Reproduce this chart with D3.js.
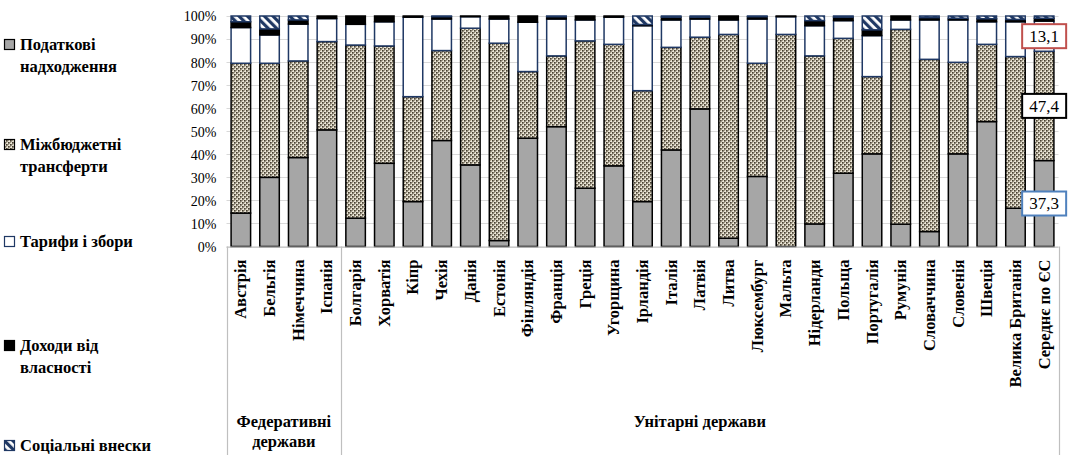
<!DOCTYPE html>
<meta charset="utf-8">
<style>
body { margin: 0; background: #fff; }
svg { display: block; }
.grid line { stroke: #d9d9d9; stroke-width: 1px; }
.yaxis text { font-size: 14px; }
.cat { font-size: 16.5px; font-weight: bold; }
.legend text { font-size: 16.5px; font-weight: bold; }
.group { font-size: 16.5px; font-weight: bold; }
.note text { font-size: 17px; }
</style>
<body>
<svg width="1068" height="455"></svg>
<script src="https://cdn.jsdelivr.net/npm/d3@7"></script>
<script>

var categories = ["Австрія","Бельгія","Німеччина","Іспанія","Болгарія","Хорватія","Кіпр","Чехія","Данія",
    "Естонія","Фінляндія","Франція","Греція","Угорщина","Ірландія","Італія","Латвія","Литва","Люксембург",
    "Мальта","Нідерланди","Польща","Португалія","Румунія","Словаччина","Словенія","Швеція","Велика Британія","Середнє по ЄС"];

var tax       = [14.5, 30.0, 38.6, 50.6, 12.3, 36.1, 19.5, 46.0, 35.4,  2.6, 47.0, 52.0, 25.3, 35.0, 19.5, 41.9, 59.7,  3.6, 30.4,  0.0,  9.8, 31.8, 40.2,  9.7,  6.5, 40.2, 54.2, 16.6, 37.3];
var transfers = [65.0, 49.5, 41.9, 38.3, 75.1, 50.9, 45.5, 39.0, 59.3, 85.6, 28.9, 30.7, 63.9, 52.7, 48.1, 44.5, 31.1, 88.4, 49.1, 92.0, 72.9, 58.5, 33.5, 84.5, 74.7, 39.7, 33.5, 65.8, 47.4];
var tariffs   = [15.5, 12.3, 16.0, 10.0,  9.0, 10.5, 34.5, 13.7,  5.0, 10.5, 21.4, 16.0,  9.1, 11.8, 28.2, 11.9,  7.9,  6.3, 19.2,  7.7, 13.1,  7.7, 17.8,  4.1, 17.1, 18.4,  9.8, 15.1, 13.1];
var property  = [ 2.5,  2.6,  1.8,  1.1,  3.6,  2.5,  0.5,  1.0,  0.3,  1.3,  2.7,  1.0,  1.7,  0.5,  0.5,  1.2,  0.8,  1.7,  1.0,  0.3,  2.2,  1.5,  2.5,  1.7,  1.0,  0.7,  1.3,  1.0,  1.2];
var social    = [ 2.5,  5.6,  1.7,  0.0,  0.0,  0.0,  0.0,  0.3,  0.0,  0.0,  0.0,  0.3,  0.0,  0.0,  3.7,  0.5,  0.5,  0.0,  0.3,  0.0,  2.0,  0.5,  6.0,  0.0,  0.7,  1.0,  1.2,  1.5,  1.0];

var seriesNames = ["Податкові надходження", "Міжбюджетні трансферти", "Тарифи і збори", "Доходи від власності", "Соціальні внески"];
var yTicks = [0, 10, 20, 30, 40, 50, 60, 70, 80, 90, 100];
var groups = [
    {lines: ["Федеративні", "держави"], from: 0, to: 3},
    {lines: ["Унітарні держави"], from: 4, to: 28}
];
var notes = [
    {key: "tariffs", text: "13,1", color: "#c0504d"},
    {key: "transfers", text: "47,4", color: "#000000"},
    {key: "tax", text: "37,3", color: "#4f81bd"}
];

(function() {

var serif = "'Liberation Serif', 'Times New Roman', serif";
var keys = ["tax", "transfers", "tariffs", "property", "social"];
var fills = ["#a6a6a6", "url(#checker)", "#ffffff", "#000000", "url(#stripes)"];
var strokes = ["#000", "#000", "#1f3864", "#000", "#1f3864"];

var rows = categories.map(function(c, i) {
    return {cat: c, tax: tax[i], transfers: transfers[i], tariffs: tariffs[i], property: property[i], social: social[i]};
});

var svg = d3.select("svg").style("font-family", serif);

var defs = svg.append("defs");
var ch = defs.append("pattern").attr("id", "checker").attr("patternUnits", "userSpaceOnUse")
    .attr("width", 4).attr("height", 4);
ch.append("rect").attr("width", 4).attr("height", 4).attr("fill", "#f3eee0");
ch.append("rect").attr("width", 1.7).attr("height", 1.7).attr("fill", "#4a4232");
ch.append("rect").attr("x", 2).attr("y", 2).attr("width", 1.7).attr("height", 1.7).attr("fill", "#4a4232");
ch.append("rect").attr("x", 2).attr("y", 0).attr("width", 1.2).attr("height", 1.2).attr("fill", "#a39b85");
ch.append("rect").attr("x", 0).attr("y", 2).attr("width", 1.2).attr("height", 1.2).attr("fill", "#a39b85");

var st = defs.append("pattern").attr("id", "stripes").attr("patternUnits", "userSpaceOnUse")
    .attr("width", 6).attr("height", 6).attr("patternTransform", "rotate(-45)");
st.append("rect").attr("width", 6).attr("height", 6).attr("fill", "#ffffff");
st.append("rect").attr("width", 3.2).attr("height", 6).attr("fill", "#1f3864");

var plotLeft = 226.5, plotRight = 1058.5, plotTop = 16, plotBottom = 246.5;

var x = d3.scaleBand().domain(categories).range([plotLeft, plotRight]).paddingInner(0.32).paddingOuter(0.16);
var y = d3.scaleLinear().domain([0, 100]).range([plotBottom, plotTop]);

// grid
svg.append("g").attr("class", "grid").selectAll("line")
    .data(yTicks).enter().append("line")
    .attr("x1", plotLeft).attr("x2", plotRight)
    .attr("y1", function(d) { return Math.round(y(d)) + 0.5; })
    .attr("y2", function(d) { return Math.round(y(d)) + 0.5; });

// y axis
var yAxis = svg.append("g").attr("class", "yaxis")
    .attr("transform", "translate(" + (plotLeft - 10) + ",0)")
    .call(d3.axisLeft(y).tickValues(yTicks).tickSize(0).tickFormat(function(d) { return d + "%"; }));
yAxis.attr("font-family", serif).attr("font-size", null);
yAxis.select(".domain").remove();
yAxis.selectAll("text").attr("x", 0).attr("dy", "0.35em").attr("fill", "#000");

var layers = d3.stack().keys(keys)(rows);

var layer = svg.append("g").selectAll("g")
    .data(layers).enter().append("g")
    .attr("fill", function(d, i) { return fills[i]; })
    .attr("stroke", function(d, i) { return strokes[i]; })
    .attr("stroke-width", 1.5);

layer.selectAll("rect")
    .data(function(d) { return d.filter(function(s) { return s[1] - s[0] > 0; }); })
    .enter().append("rect")
    .attr("x", function(d) { return x(d.data.cat); })
    .attr("width", x.bandwidth())
    .attr("y", function(d) { return y(d[1]); })
    .attr("height", function(d) { return y(d[0]) - y(d[1]); });

// bottom axis line and group separators
svg.append("line").attr("x1", plotLeft).attr("x2", plotRight).attr("y1", plotBottom + 0.5).attr("y2", plotBottom + 0.5)
    .attr("stroke", "#bfbfbf").attr("stroke-width", 1.2);

var step = x.step();
var seps = [0, 4, categories.length].map(function(i) {
    return i === categories.length ? plotRight : x(categories[i]) - step * x.paddingInner() / 2;
});
svg.append("g").selectAll("line").data(seps).enter().append("line")
    .attr("x1", function(d) { return Math.round(d) + 0.5; })
    .attr("x2", function(d) { return Math.round(d) + 0.5; })
    .attr("y1", plotBottom).attr("y2", 455)
    .attr("stroke", "#bfbfbf").attr("stroke-width", 1.2);

// category labels
svg.append("g").selectAll("text")
    .data(categories).enter().append("text")
    .attr("class", "cat")
    .style("font-family", serif)
    .attr("text-anchor", "end")
    .attr("transform", function(d) {
        return "translate(" + (x(d) + x.bandwidth() / 2 + 5.5) + "," + (plotBottom + 13) + ") rotate(-90)";
    })
    .text(function(d) { return d; });

// group labels
groups.forEach(function(g) {
    var cx = (x(categories[g.from]) + x(categories[g.to]) + x.bandwidth()) / 2;
    var t = svg.append("text").attr("class", "group").style("font-family", serif).attr("text-anchor", "middle");
    g.lines.forEach(function(l, i) {
        t.append("tspan").attr("x", cx).attr("y", 427 + i * 20).text(l);
    });
});

// annotation boxes on the EU average bar
var last = rows.length - 1;
var note = svg.append("g").attr("class", "note").selectAll("g")
    .data(notes).enter().append("g")
    .attr("transform", function(d) {
        var seg = layers[keys.indexOf(d.key)][last];
        var cy = y((seg[0] + seg[1]) / 2);
        var cx = x(categories[last]) + x.bandwidth() / 2;
        return "translate(" + cx + "," + cy + ")";
    });
note.append("rect").attr("x", -22).attr("y", -12).attr("width", 44).attr("height", 24)
    .attr("fill", "#fff").attr("stroke", function(d) { return d.color; }).attr("stroke-width", 2);
note.append("text").style("font-family", serif).attr("text-anchor", "middle").attr("dy", "0.35em")
    .text(function(d) { return d.text; });

// legend
var legendY = [50, 150, 247, 351, 451];
var legend = svg.append("g").attr("class", "legend").selectAll("g")
    .data(seriesNames).enter().append("g")
    .attr("transform", function(d, i) { return "translate(4," + legendY[i] + ")"; });
legend.append("rect").attr("x", 0.5).attr("y", -10.5).attr("width", 10).attr("height", 10)
    .attr("fill", function(d, i) { return fills[i]; })
    .attr("stroke", function(d, i) { return (i === 2 || i === 4) ? "#1f3864" : "#000"; })
    .attr("stroke-width", 1.2);
legend.append("text").style("font-family", serif).each(function(d) {
    var words = d.split(" ");
    var t = d3.select(this);
    if (d === "Тарифи і збори" || d === "Соціальні внески") {
        t.append("tspan").attr("x", 16).attr("y", 0).text(d);
    } else {
        t.append("tspan").attr("x", 16).attr("y", 0).text(words.slice(0, words.length - 1).join(" "));
        t.append("tspan").attr("x", 16).attr("y", 22).text(words[words.length - 1]);
    }
});

})();

</script>
</body>
